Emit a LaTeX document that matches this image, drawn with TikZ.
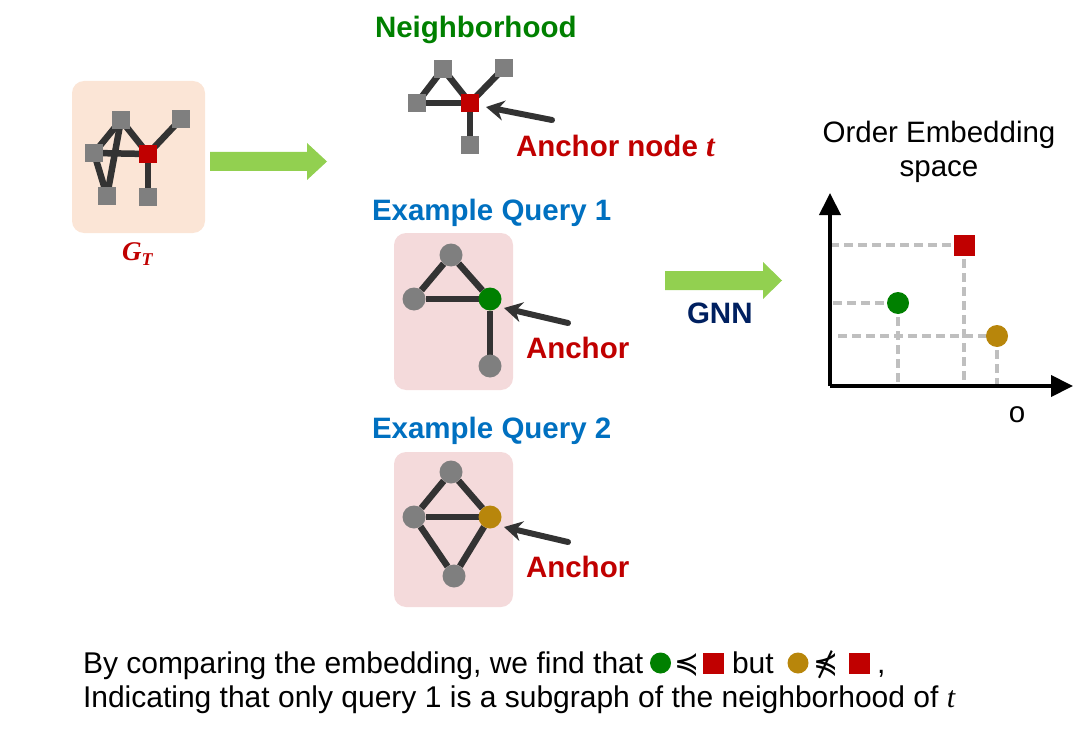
\documentclass[tikz,border=0pt]{standalone}
\usepackage{fontspec}
\setmainfont{Liberation Sans}
\newfontfamily\symfont{DejaVu Sans}
\newfontfamily\seriffont{Liberation Serif}
\usetikzlibrary{arrows.meta}
\definecolor{edgegray}{HTML}{333333}
\definecolor{nodegray}{HTML}{7F7F7F}
\definecolor{darkred}{HTML}{C00000}
\definecolor{anchorgreen}{HTML}{008000}
\definecolor{anchorgold}{HTML}{B8860B}
\definecolor{peach}{HTML}{FBE5D6}
\definecolor{softpink}{HTML}{F4DADB}
\definecolor{titleblue}{HTML}{0070C0}
\definecolor{navy}{HTML}{002060}
\definecolor{lime}{HTML}{92D050}
\definecolor{dashgray}{HTML}{BFBFBF}
\pgfdeclarelayer{boxes}
\pgfdeclarelayer{edges}
\pgfsetlayers{boxes,edges,main}
% wide green block arrow: shaft start, head start, tip, centre line
\newcommand\fatarrow[4]{%
  \fill[fat] (#1,{#4-9.5}) -- (#2,{#4-9.5}) -- (#2,{#4-18.5}) -- (#3,#4)
    -- (#2,{#4+18.5}) -- (#2,{#4+9.5}) -- (#1,{#4+9.5}) -- cycle;}
\begin{document}
\begin{tikzpicture}[x=1pt,y=-1pt,
  every node/.style={inner sep=0pt, outer sep=0pt},
  lbl/.style={font=\fontsize{29.5}{34}\selectfont},
  blbl/.style={font=\fontsize{29.5}{34}\selectfont\bfseries},
  btxt/.style={font=\fontsize{30}{34}\selectfont},
  sq/.style={rectangle, fill=nodegray, minimum size=18pt},
  sqred/.style={sq, fill=darkred},
  dot/.style={circle, fill=nodegray, minimum size=23pt},
  edge/.style={draw=edgegray, line width=6.5pt},
  panel/.style={rounded corners=12pt},
  pointer/.style={draw=edgegray, line width=6pt, line cap=round,
    -{Stealth[length=18pt,width=20pt,inset=6pt]}},
  fat/.style={fill=lime},
  axis/.style={draw=black, line width=4pt, -{Triangle[length=22pt,width=21pt]}},
  guide/.style={draw=dashgray, line width=3.5pt, dash pattern=on 9pt off 5pt},
  relsym/.style={anchor=base west, font=\fontsize{30}{34}\selectfont\symfont},
]
\useasboundingbox (0,0) rectangle (1089,730);

% ---------- panels ----------
\begin{pgfonlayer}{boxes}
  \fill[peach, panel] (72,81) rectangle (205,233);
  \fill[softpink, panel] (394,233) rectangle (513,390);
  \fill[softpink, panel] (394,452) rectangle (513,607);
\end{pgfonlayer}

% ---------- target graph G_T ----------
\node[sq] (ga) at (121,120) {};
\node[sq] (gb) at (181,119) {};
\node[sq] (gc) at (94,153) {};
\node[sqred] (gt) at (148,154) {};
\node[sq] (gd) at (107,196) {};
\node[sq] (ge) at (148,197) {};
\begin{pgfonlayer}{edges}
  \draw[edge] (ga.center) -- (gc.center);
  \draw[edge] (ga.center) -- (gt.center);
  \draw[edge] (ga.center) -- (gd.center);
  \draw[edge] (gc.center) -- (gt.center);
  \draw[edge] (gc.center) -- (gd.center);
  \draw[edge] (gt.center) -- (gb.center);
  \draw[edge] (gt.center) -- (ge.center);
\end{pgfonlayer}
\node[anchor=base west, text=darkred, font=\fontsize{27}{30}\selectfont\seriffont\bfseries\itshape]
  (gtl) at (122,260) {G\raisebox{-5pt}{\fontsize{18}{20}\selectfont T}};

\fatarrow{210}{307}{327}{161.5}

% ---------- neighbourhood ----------
\node[blbl, text=anchorgreen, anchor=base west] (nh) at (375,38) {Neighborhood};
\node[sq] (na) at (443,69) {};
\node[sq] (nb) at (504,68) {};
\node[sq] (nc) at (417,103) {};
\node[sqred] (nt) at (470,103) {};
\node[sq] (nd) at (470,145) {};
\begin{pgfonlayer}{edges}
  \draw[edge] (na.center) -- (nc.center);
  \draw[edge] (na.center) -- (nt.center);
  \draw[edge] (nc.center) -- (nt.center);
  \draw[edge] (nt.center) -- (nb.center);
  \draw[edge] (nt.center) -- (nd.center);
\end{pgfonlayer}
\coordinate (ntail) at (552,120);
\coordinate (ntip) at (486,107);
\draw[pointer] (ntail) -- (ntip);
\node[blbl, text=darkred, anchor=base west] (nlab) at (516,157)
  {Anchor node {\fontsize{31}{34}\selectfont\seriffont\bfseries\itshape t}};

% ---------- query 1 ----------
\node[blbl, text=titleblue, anchor=base west] (q1title) at (372,220) {Example Query 1};
\node[dot] (qa) at (451,255) {};
\node[dot] (qc) at (414,299) {};
\node[dot, fill=anchorgreen] (qt) at (490,299) {};
\node[dot] (qd) at (490,366) {};
\begin{pgfonlayer}{edges}
  \draw[edge] (qa) -- (qc);
  \draw[edge] (qa) -- (qt);
  \draw[edge] (qc) -- (qt);
  \draw[edge] (qt) -- (qd);
\end{pgfonlayer}
\coordinate (q1tail) at (568,323);
\coordinate (q1tip) at (504,308);
\draw[pointer] (q1tail) -- (q1tip);
\node[blbl, text=darkred, anchor=base west] (q1lab) at (526,358) {Anchor};

% ---------- query 2 ----------
\node[blbl, text=titleblue, anchor=base west] (q2title) at (372,438) {Example Query 2};
\node[dot] (ra) at (451,472) {};
\node[dot] (rc) at (414,517) {};
\node[dot, fill=anchorgold] (rt) at (490,517) {};
\node[dot] (rd) at (454,576) {};
\begin{pgfonlayer}{edges}
  \draw[edge] (ra) -- (rc);
  \draw[edge] (ra) -- (rt);
  \draw[edge] (rc) -- (rt);
  \draw[edge] (rc) -- (rd);
  \draw[edge] (rt) -- (rd);
\end{pgfonlayer}
\coordinate (q2tail) at (568,542);
\coordinate (q2tip) at (504,527);
\draw[pointer] (q2tail) -- (q2tip);
\node[blbl, text=darkred, anchor=base west] (q2lab) at (526,577) {Anchor};

% ---------- GNN ----------
\fatarrow{665}{763}{782}{280.5}
\node[blbl, text=navy, anchor=base west] (gnn) at (687,323) {GNN};

% ---------- order embedding space ----------
\node[lbl, anchor=base] (oe1) at (939,143) {Order Embedding};
\node[lbl, anchor=base] (oe2) at (939,177) {space};
\coordinate (orig) at (830,386);
\coordinate (ytip) at (830,193);
\coordinate (xtip) at (1073,386);
\node[rectangle, fill=darkred, minimum size=21pt] (pr) at (964,245) {};
\node[circle, fill=anchorgreen, minimum size=22pt] (pg) at (898,303) {};
\node[circle, fill=anchorgold, minimum size=22pt] (py) at (997,336) {};
\coordinate (hr) at (830,245);
\coordinate (hg) at (833,303);
\coordinate (hy) at (838,336);
\coordinate (vr) at (964,384);
\coordinate (vg) at (898,384);
\coordinate (vy) at (997,384);
\begin{pgfonlayer}{edges}
  \draw[guide] (hr) -- (pr.center);
  \draw[guide] (hg) -- (pg.center);
  \draw[guide] (hy) -- (py.center);
  \draw[guide] (pr.center) -- (vr);
  \draw[guide] (pg.center) -- (vg);
  \draw[guide] (py.center) -- (vy);
\end{pgfonlayer}
\draw[axis] (orig) -- (ytip);
\draw[axis] (orig) -- (xtip);
\node[lbl, anchor=base] (olab) at (1017,422) {o};

% ---------- caption ----------
\node[btxt, anchor=base west] (cap1) at (83,673) {By comparing the embedding, we find that};
\node[circle, fill=anchorgreen, minimum size=21pt] (cg) at (660.5,663) {};
\node[relsym] (cle) at (674,673) {≼};
\node[rectangle, fill=darkred, minimum width=21pt, minimum height=21pt] (cr1) at (713.5,663.5) {};
\node[btxt, anchor=base west] (cbut) at (732,673) {but};
\node[circle, fill=anchorgold, minimum size=21pt] (cy) at (798,663) {};
\node[relsym] (cnle) at (813,673) {⋠};
\node[rectangle, fill=darkred, minimum width=21pt, minimum height=21pt] (cr2) at (859.5,663.5) {};
\node[btxt, anchor=base west] (ccomma) at (877,673) {,};
\node[btxt, anchor=base west] (cap2) at (83,707)
  {Indicating that only query 1 is a subgraph of the neighborhood of {\seriffont\itshape t}};
\end{tikzpicture}
\end{document}
